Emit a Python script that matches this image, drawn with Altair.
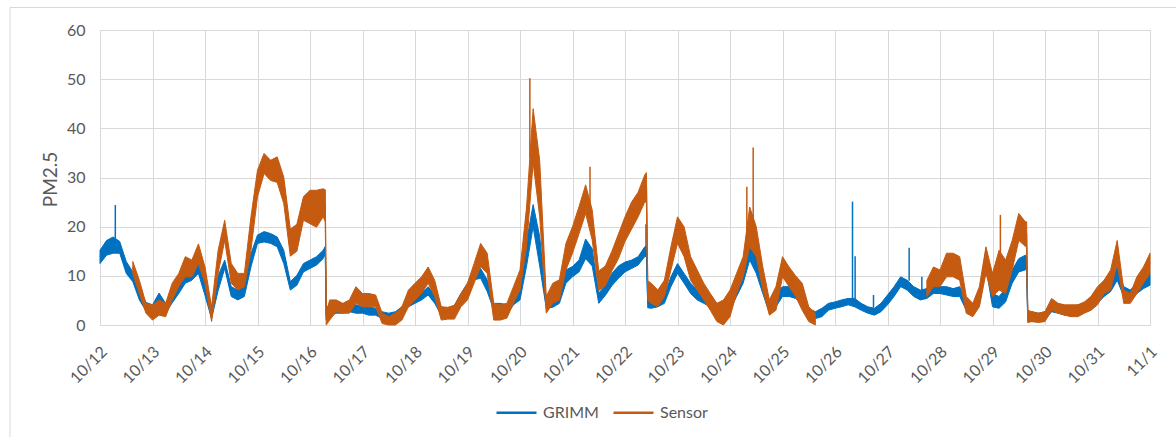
import json
import altair as alt
import pandas as pd

# PM2.5 readings sampled every 3 hours from 10/12 00:00 to 11/1 00:00.
# Each sample keeps the low and high edge of the noisy trace.
STEP_H = 3

day_labels = ["10/12", "10/13", "10/14", "10/15", "10/16", "10/17", "10/18",
              "10/19", "10/20", "10/21", "10/22", "10/23", "10/24", "10/25",
              "10/26", "10/27", "10/28", "10/29", "10/30", "10/31", "11/1"]

grimm_lo = [
    12.5, 14.2, 14.6, 14.6, 10.5, 8.8, 5.1, 2.9, 2.4, 3.7,
    2.4, 4.5, 6.4, 8.5, 9.1, 10.5, 6.0, 1.3, 7.0, 11.5,
    5.8, 5.1, 5.8, 11.8, 16.6, 16.9, 16.6, 15.9, 12.5, 7.1,
    8.1, 10.8, 11.5, 12.2, 13.5, 2.0, 2.4, 2.4, 2.7, 2.4,
    2.4, 2.0, 2.0, 1.3, 1.3, 1.7, 2.4, 3.7, 4.4, 5.1,
    6.1, 4.4, 2.0, 1.8, 2.4, 4.4, 6.4, 9.2, 9.5, 6.8,
    3.1, 2.4, 2.0, 4.1, 5.1, 12.0, 20.0, 12.0, 3.4, 3.6,
    4.4, 8.5, 9.8, 10.8, 13.5, 12.0, 4.4, 6.0, 8.0, 9.5,
    10.8, 11.5, 12.2, 13.9, 3.4, 3.7, 4.4, 7.8, 10.5, 8.5,
    6.4, 5.1, 4.4, 3.7, 2.4, 1.7, 3.0, 5.8, 8.5, 13.2,
    10.5, 6.4, 2.4, 3.7, 5.8, 5.8, 5.4, 4.3, 1.7, 1.3,
    1.7, 3.0, 3.4, 3.7, 4.1, 3.7, 3.0, 2.4, 2.0, 2.7,
    4.1, 5.8, 7.8, 7.1, 5.8, 5.1, 5.4, 6.4, 6.4, 6.1,
    5.8, 5.8, 3.0, 2.2, 4.1, 11.8, 3.7, 3.4, 4.7, 8.5,
    10.8, 11.2, 0.7, 0.7, 1.0, 2.7, 2.4, 2.0, 1.8, 2.0,
    2.7, 3.0, 4.4, 5.8, 6.8, 9.1, 5.8, 5.1, 6.4, 7.4,
    8.1,
]
grimm_hi = [
    15.2, 17.2, 17.9, 17.0, 12.9, 10.8, 7.4, 4.6, 4.1, 6.5,
    4.4, 6.5, 8.5, 10.5, 11.2, 12.5, 9.0, 3.4, 10.0, 13.2,
    7.8, 7.1, 7.8, 14.5, 18.3, 19.0, 18.6, 17.9, 15.2, 8.8,
    10.1, 12.5, 13.2, 13.9, 15.2, 4.1, 4.4, 4.1, 4.4, 4.1,
    3.7, 3.7, 3.4, 2.7, 2.4, 2.7, 3.7, 5.1, 5.8, 6.4,
    7.8, 6.4, 3.7, 3.3, 4.0, 6.4, 8.5, 11.2, 11.5, 9.2,
    4.4, 4.4, 4.1, 5.8, 7.8, 17.0, 24.5, 18.0, 5.1, 5.1,
    6.8, 11.2, 11.9, 13.2, 17.5, 15.5, 6.5, 8.0, 10.5, 12.0,
    12.8, 13.2, 13.9, 15.9, 4.7, 5.1, 6.1, 9.8, 12.5, 10.5,
    8.5, 7.1, 6.1, 5.8, 4.4, 4.1, 5.1, 7.8, 11.2, 17.2,
    13.9, 9.1, 4.4, 6.4, 7.8, 7.8, 7.5, 6.3, 3.4, 2.7,
    3.4, 4.4, 4.7, 5.1, 5.4, 5.4, 4.4, 3.7, 3.4, 4.4,
    6.1, 7.8, 9.8, 9.1, 7.8, 7.1, 7.4, 8.1, 7.8, 7.8,
    7.4, 7.8, 5.1, 4.2, 6.4, 15.2, 6.4, 5.8, 7.4, 11.2,
    13.5, 14.2, 2.7, 2.4, 2.7, 4.7, 4.1, 3.7, 3.7, 4.1,
    4.4, 5.1, 6.8, 7.8, 8.8, 11.8, 7.8, 7.1, 8.5, 9.5,
    10.5,
]

N = None  # no sensor reading
sensor_lo = [
    N, N, N, N, N, 10.5, 6.4, 2.4, 1.0, 2.0,
    1.7, 5.1, 7.8, 9.8, 9.8, 12.5, 8.5, 0.7, 10.5, 17.2,
    8.5, 7.1, 7.8, 15.2, 26.1, 30.8, 29.4, 29.0, 24.7, 14.0,
    15.0, 21.3, 20.6, 19.9, 22.0, 1.0, 2.7, 2.4, 2.4, 4.4,
    3.7, 3.7, 3.7, 0.3, 0.0, 0.0, 1.0, 3.7, 5.1, 6.4,
    8.5, 5.8, 1.0, 1.2, 1.2, 3.7, 5.1, 8.5, 11.9, 10.5,
    1.0, 1.0, 1.4, 4.4, 7.1, 16.0, 33.0, 22.0, 2.4, 4.4,
    5.1, 11.2, 14.6, 18.6, 22.7, 17.3, 7.0, 8.0, 11.0, 13.5,
    17.0, 19.5, 22.0, 25.0, 4.4, 3.7, 5.8, 11.2, 16.6, 13.9,
    9.1, 7.1, 5.1, 3.0, 0.7, 0.0, 1.7, 6.4, 9.8, 15.9,
    13.9, 7.1, 2.0, 3.0, 9.8, 7.8, 5.8, 3.0, 0.7, 0.0,
    N, N, N, N, N, N, N, N, N, N,
    N, N, N, N, N, N, 5.8, 7.8, 7.8, 9.8,
    9.8, 9.1, 2.4, 1.7, 3.7, 10.5, 5.8, 7.1, 6.4, 11.2,
    17.2, 16.0, 0.7, 0.5, 0.7, 3.0, 2.4, 2.0, 1.7, 1.7,
    2.4, 3.0, 4.1, 6.4, 7.1, 12.5, 4.4, 4.4, 6.4, 8.5,
    10.5,
]
sensor_hi = [
    N, N, N, N, N, 12.9, 9.1, 4.4, 4.1, 5.1,
    4.4, 8.5, 10.5, 13.9, 13.2, 16.5, 11.8, 3.7, 15.2, 21.3,
    12.5, 10.5, 10.5, 22.0, 31.5, 34.9, 33.5, 34.2, 30.1, 19.5,
    20.5, 26.1, 27.4, 27.4, 27.7, 5.1, 5.1, 4.4, 5.1, 7.8,
    6.4, 6.4, 6.1, 2.4, 1.7, 2.4, 3.7, 7.1, 8.5, 9.8,
    11.8, 9.1, 3.7, 3.6, 4.0, 6.4, 8.5, 12.5, 16.6, 14.6,
    4.4, 4.1, 4.4, 7.8, 11.2, 24.0, 44.0, 33.5, 5.8, 8.5,
    9.2, 16.6, 20.0, 24.1, 28.5, 23.4, 11.0, 12.0, 15.0, 18.5,
    22.0, 25.0, 27.0, 30.5, 8.5, 7.1, 9.1, 15.9, 22.0, 20.0,
    13.9, 11.2, 8.5, 6.4, 4.4, 5.1, 7.1, 10.5, 13.9, 24.0,
    20.0, 11.8, 5.1, 7.8, 13.9, 11.8, 10.0, 8.5, 3.7, 2.4,
    N, N, N, N, N, N, N, N, N, N,
    N, N, N, N, N, N, 9.1, 11.8, 11.2, 14.6,
    14.6, 13.9, 5.8, 4.4, 7.8, 15.9, 10.5, 15.2, 13.2, 17.2,
    22.7, 21.0, 2.7, 2.4, 2.7, 5.4, 4.4, 4.1, 4.1, 4.1,
    4.7, 5.8, 7.8, 9.1, 11.2, 17.2, 7.1, 6.4, 9.8, 11.8,
    14.6,
]

# Extra samples on either side of the three abrupt drops
drop_hours = [103.0, 103.4, 249.8, 250.4, 423.6, 424.1]
grimm_drop_lo = [14.5, 1.0, 14.0, 3.5, 11.5, 0.8]
grimm_drop_hi = [16.0, 3.5, 16.0, 5.5, 14.0, 2.8]
sensor_drop_lo = [21.0, 0.0, 25.0, 5.0, 16.0, 0.5]
sensor_drop_hi = [27.5, 2.5, 31.0, 9.0, 21.0, 3.0]

# Short single-sample spikes
grimm_spike_hours = [7.0, 249.6, 344.0, 345.2, 353.6, 369.9, 375.7]
grimm_spike_base = [16.0, 15.0, 5.0, 5.0, 3.5, 9.0, 7.0]
grimm_spike_peak = [24.4, 20.5, 25.1, 14.0, 6.1, 15.7, 9.8]
sensor_spike_hours = [196.5, 224.0, 295.7, 298.6, 411.6]
sensor_spike_base = [34.0, 24.0, 15.0, 19.0, 10.0]
sensor_spike_peak = [50.2, 32.2, 28.1, 36.1, 22.4]

BLUE = "#0070C0"
ORANGE = "#C55A11"
GRID = "#d9d9d9"
TEXT = "#595959"
FONT = "Lato"


def series_frame(name, lo, hi, extra_lo, extra_hi):
    rows = [(STEP_H * i, a, b) for i, (a, b) in enumerate(zip(lo, hi))]
    rows += list(zip(drop_hours, extra_lo, extra_hi))
    rows.sort(key=lambda r: r[0])
    out, seg, gap = [], 0, False
    for t, a, b in rows:
        if a is None or b is None:
            gap = True
            continue
        if gap:
            seg += 1
            gap = False
        out.append({"t": t, "lo": a, "hi": b, "series": name, "seg": seg})
    return pd.DataFrame(out)


grimm = series_frame("GRIMM", grimm_lo, grimm_hi, grimm_drop_lo, grimm_drop_hi)
sensor = series_frame("Sensor", sensor_lo, sensor_hi, sensor_drop_lo, sensor_drop_hi)
grimm_spikes = pd.DataFrame({"t": grimm_spike_hours, "base": grimm_spike_base,
                             "peak": grimm_spike_peak})
sensor_spikes = pd.DataFrame({"t": sensor_spike_hours, "base": sensor_spike_base,
                              "peak": sensor_spike_peak})

label_expr = json.dumps(day_labels) + "[round(datum.value / 24)]"

x_enc = alt.X(
    "t:Q",
    scale=alt.Scale(domain=[0, 480], nice=False, zero=False),
    axis=alt.Axis(
        values=list(range(0, 481, 24)), labelExpr=label_expr, title=None,
        grid=True, gridColor=GRID, gridWidth=1, ticks=False,
        domainColor=GRID, labelAngle=-45, labelAlign="right",
        labelBaseline="middle", labelPadding=24, labelOffset=4,
        labelFontSize=16, labelColor=TEXT, labelFont=FONT,
        labelOverlap=False, labelFlush=False,
    ),
)


def y_enc(field):
    return alt.Y(
        f"{field}:Q",
        scale=alt.Scale(domain=[0, 60], nice=False),
        axis=alt.Axis(
            values=[0, 10, 20, 30, 40, 50, 60], title="PM2.5", grid=True,
            gridColor=GRID, gridWidth=1, ticks=False, domain=False,
            labelPadding=15, labelFontSize=16, labelColor=TEXT, labelFont=FONT,
            titleFontSize=19, titleColor=TEXT, titleFont=FONT,
            titleFontWeight="normal", titleX=-50, titleY=149, titleAngle=-90,
            titleAlign="center", titleBaseline="middle",
        ),
    )


color_scale = alt.Scale(domain=["GRIMM", "Sensor"], range=[BLUE, ORANGE])
legend = alt.Legend(
    orient="none", legendX=395, legendY=361, direction="horizontal",
    title=None, symbolType="stroke", symbolStrokeWidth=2.5, symbolSize=1600,
    labelFontSize=16, labelColor=TEXT, labelFont=FONT, columnPadding=9,
    labelOffset=5,
)


def band_layers(df, spikes, color):
    area = alt.Chart(df).mark_area(
        color=color, opacity=1, stroke=color, strokeWidth=1
    ).encode(x=x_enc, y=y_enc("lo"), y2="hi:Q", detail="seg:N")
    line = alt.Chart(df).transform_calculate(
        mid="(datum.lo + datum.hi) / 2"
    ).mark_line(strokeWidth=1.2).encode(
        x=x_enc, y=y_enc("mid"),
        color=alt.Color("series:N", scale=color_scale, legend=legend),
        detail="seg:N")
    spike = alt.Chart(spikes).mark_rule(color=color, strokeWidth=1.5).encode(
        x=x_enc, y=y_enc("base"), y2="peak:Q")
    return [area, line, spike]


frame = alt.Chart(pd.DataFrame({"k": [0]})).mark_rect(
    fill="transparent", stroke=GRID, strokeWidth=1
).encode(x=alt.value(-90), x2=alt.value(1100), y=alt.value(-22.5), y2=alt.value(460))

chart = alt.layer(
    frame,
    *band_layers(grimm, grimm_spikes, BLUE),
    *band_layers(sensor, sensor_spikes, ORANGE),
).properties(
    width=1050, height=295,
    padding={"left": 100, "top": 30, "right": 26, "bottom": 112},
    autosize=alt.AutoSizeParams(type="none"),
    background="white",
).configure_view(stroke=None).configure(font=FONT)

chart.save("out.html", embed_options={"renderer": "svg", "actions": False})
